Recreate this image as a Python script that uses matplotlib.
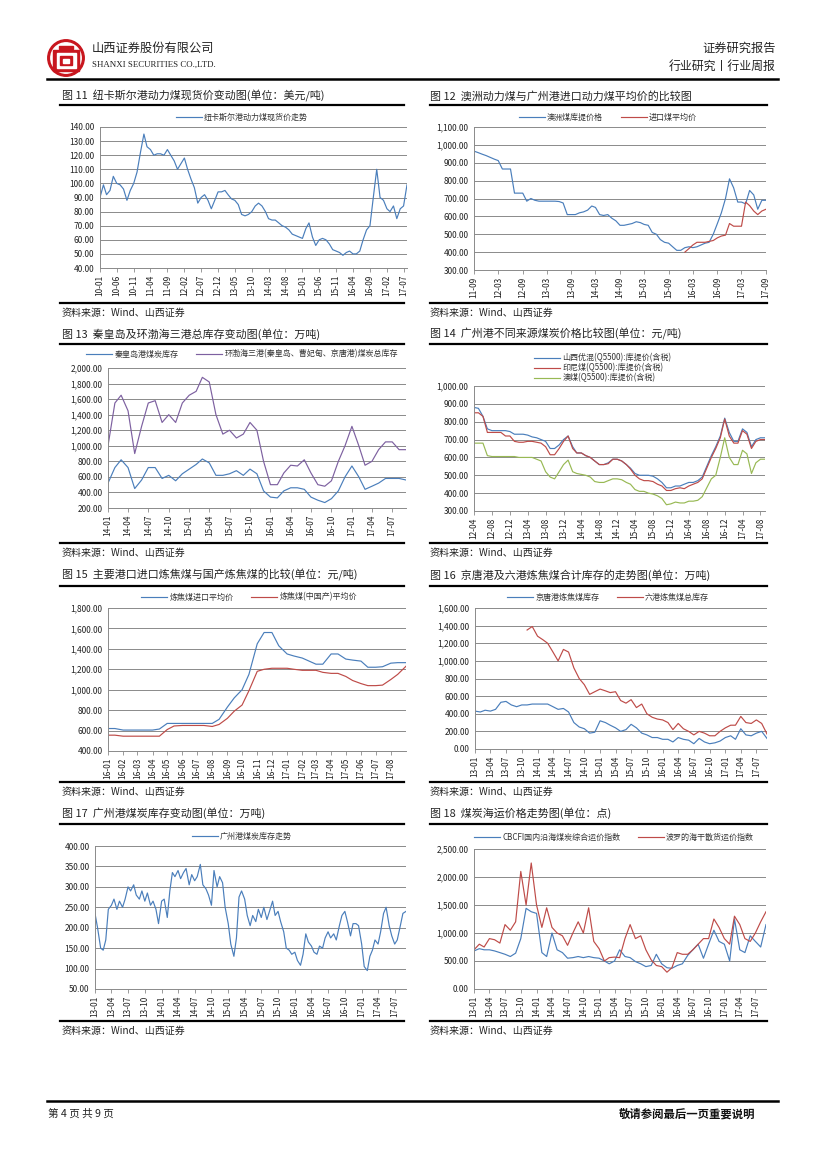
import matplotlib
matplotlib.use("Agg")
import matplotlib.pyplot as plt
import numpy as np
import pandas as pd
from matplotlib.lines import Line2D
from matplotlib.patches import Circle, Rectangle
from matplotlib.ticker import FuncFormatter

plt.rcParams['font.family'] = ['Noto Sans CJK SC', 'DejaVu Sans']

W, H = 827, 1169

BLUE = "#4a7ebb"
RED = "#be4b48"
PURPLE = "#7d60a0"
GREEN = "#98b954"

# --- Fig 11: Newcastle spot price, monthly from 2010-01 ---------------
f11_start = "2010-01-01"
f11_price = [90, 99, 92, 95, 105, 100, 99, 96, 88, 95,
             100, 108, 122, 135, 126, 124, 120, 121, 121, 120,
             124, 120, 116, 110, 114, 118, 110, 103, 97, 86,
             90, 92, 88, 82, 88, 94, 94, 95, 92, 89,
             88, 85, 78, 77, 78, 80, 84, 86, 84, 80,
             75, 74, 74, 72, 70, 69, 67, 64, 63, 62,
             61, 68, 72, 62, 56, 60, 61, 60, 57, 53,
             52, 51, 49, 51, 52, 50, 50, 52, 60, 67,
             70, 90, 110, 90, 88, 82, 80, 84, 75, 82,
             84, 99]
f11_ticks = ["10-01", "10-06", "10-11", "11-04", "11-09", "12-02", "12-07",
             "12-12", "13-05", "13-10", "14-03", "14-08", "15-01", "15-06",
             "15-11", "16-04", "16-09", "17-02", "17-07"]
f11_labels = ["纽卡斯尔港动力煤现货价走势"]

# --- Fig 12: Australian coal vs Guangzhou import avg, monthly from 2011-09
f12_start = "2011-09-01"
f12_aus = [965, 957, 948, 940, 930, 920, 912, 865, 865, 865,
           730, 730, 730, 685, 700, 690, 685, 685, 685, 685,
           685, 683, 675, 610, 610, 610, 620, 625, 635, 658,
           650, 610, 605, 610, 590, 575, 550, 550, 555, 560,
           570, 565, 555, 550, 510, 500, 470, 455, 450, 430,
           410, 410, 425, 430, 425, 430, 440, 450, 455, 500,
           560, 620, 700, 810, 760, 680, 680, 670, 745, 720,
           640, 690, 690]
f12_imp = [400, 420, 440, 455, 455, 455, 460, 465, 480, 490,
           495, 560, 545, 545, 545, 680, 660, 630, 610, 630, 640]
f12_ticks = ["11-09", "12-03", "12-09", "13-03", "13-09", "14-03", "14-09",
             "15-03", "15-09", "16-03", "16-09", "17-03", "17-09"]
f12_labels = ["澳洲煤库提价格", "进口煤平均价"]

# --- Fig 13: Qinhuangdao / Bohai three ports stock, monthly from 2014-01
f13_start = "2014-01-01"
f13_qhd = [520, 720, 820, 720, 450, 560, 720, 720, 580, 620,
           550, 640, 700, 760, 830, 780, 620, 620, 640, 680,
           620, 700, 640, 420, 340, 330, 420, 460, 460, 440,
           340, 300, 270, 320, 420, 600, 740, 600, 440, 480,
           520, 580, 580, 580, 560]
f13_bohai = [1000, 1550, 1650, 1450, 900, 1250, 1550, 1580, 1300, 1400,
             1300, 1550, 1650, 1700, 1880, 1820, 1400, 1150, 1200, 1100,
             1150, 1300, 1200, 800, 500, 500, 650, 750, 740, 820,
             650, 500, 480, 550, 800, 1000, 1250, 1000, 750, 800,
             950, 1050, 1050, 950, 950]
f13_ticks = ["14-01", "14-04", "14-07", "14-10", "15-01", "15-04", "15-07",
             "15-10", "16-01", "16-04", "16-07", "16-10", "17-01", "17-04",
             "17-07"]
f13_labels = ["秦皇岛港煤炭库存", "环渤海三港(秦皇岛、曹妃甸、京唐港)煤炭总库存"]

# --- Fig 14: Guangzhou prices by origin, monthly from 2012-04 ---------
f14_start = "2012-04-01"
f14_shanxi = [880, 875, 830, 760, 750, 750, 750, 750, 745, 730,
              730, 730, 725, 715, 710, 700, 690, 650, 650, 670,
              700, 720, 660, 625, 625, 610, 600, 580, 560, 560,
              570, 590, 590, 580, 560, 540, 510, 500, 500, 500,
              495, 480, 460, 430, 430, 440, 440, 450, 460, 460,
              470, 490, 550, 610, 660, 720, 820, 740, 690, 690,
              760, 740, 660, 700, 710, 710]
f14_indo = [850, 850, 830, 740, 740, 740, 740, 720, 720, 690,
            685, 685, 690, 690, 685, 680, 660, 615, 615, 650,
            690, 720, 650, 625, 625, 610, 600, 580, 560, 560,
            565, 590, 590, 580, 560, 535, 500, 480, 470, 470,
            465, 450, 440, 415, 415, 425, 430, 425, 440, 450,
            460, 480, 540, 600, 650, 710, 815, 720, 680, 680,
            750, 730, 650, 690, 700, 700]
f14_aus = [680, 680, 680, 610, 605, 605, 605, 605, 605, 605,
           600, 600, 600, 600, 590, 580, 520, 490, 480, 520,
           560, 585, 520, 510, 505, 500, 490, 465, 460, 460,
           470, 480, 480, 475, 460, 450, 420, 410, 410, 400,
           395, 385, 370, 335, 340, 350, 345, 345, 355, 355,
           360, 380, 430, 480, 500, 600, 710, 600, 560, 560,
           640, 620, 510, 570, 590, 590]
f14_ticks = ["12-04", "12-08", "12-12", "13-04", "13-08", "13-12", "14-04",
             "14-08", "14-12", "15-04", "15-08", "15-12", "16-04", "16-08",
             "16-12", "17-04", "17-08"]
f14_labels = ["山西优混(Q5500):库提价(含税)", "印尼煤(Q5500):库提价(含税)",
              "澳煤(Q5500):库提价(含税)"]

# --- Fig 15: imported vs domestic coking coal, semi-monthly from 2016-01
f15_start = "2016-01-01"
f15_import = [620, 620, 605, 605, 605, 605, 605, 615, 670, 670,
              670, 670, 670, 670, 670, 710, 830, 920, 1000, 1150,
              1450, 1560, 1560, 1430, 1350, 1330, 1310, 1280, 1250, 1250,
              1350, 1350, 1300, 1290, 1280, 1220, 1220, 1225, 1260, 1265,
              1265]
f15_domestic = [555, 555, 545, 545, 545, 545, 545, 545, 610, 645,
                650, 650, 650, 650, 640, 660, 720, 790, 850, 990,
                1180, 1200, 1210, 1210, 1210, 1200, 1190, 1190, 1190, 1170,
                1160, 1160, 1130, 1090, 1060, 1040, 1040, 1045, 1100, 1150,
                1230]
f15_ticks = ["16-01", "16-02", "16-03", "16-04", "16-05", "16-06", "16-07",
             "16-08", "16-09", "16-10", "16-11", "16-12", "17-01", "17-02",
             "17-03", "17-04", "17-05", "17-06", "17-07", "17-08"]
f15_labels = ["炼焦煤进口平均价", "炼焦煤(中国产)平均价"]

# --- Fig 16: Jingtang / six ports coking coal stock, monthly from 2013-01
f16_start = "2013-01-01"
f16_jt = [430, 420, 440, 430, 450, 530, 540, 500, 480, 500,
          500, 510, 510, 510, 510, 480, 450, 460, 420, 300,
          250, 230, 180, 190, 320, 300, 270, 240, 200, 220,
          280, 240, 180, 160, 130, 130, 110, 110, 80, 130,
          110, 100, 60, 120, 80, 60, 70, 90, 130, 150,
          110, 230, 160, 150, 180, 200, 120]
f16_six = [1350, 1390, 1280, 1240, 1200, 1100, 1000, 1130, 1100, 920,
           800, 730, 620, 650, 680, 660, 640, 650, 550, 520,
           560, 470, 510, 400, 360, 340, 330, 300, 220, 290,
           230, 200, 160, 200, 180, 150, 150, 200, 240, 270,
           270, 370, 300, 290, 330, 290, 170]
f16_ticks = ["13-01", "13-04", "13-07", "13-10", "14-01", "14-04", "14-07",
             "14-10", "15-01", "15-04", "15-07", "15-10", "16-01", "16-04",
             "16-07", "16-10", "17-01", "17-04", "17-07"]
f16_labels = ["京唐港炼焦煤库存", "六港炼焦煤总库存"]

# --- Fig 17: Guangzhou port coal stock, semi-monthly from 2013-01 -----
f17_start = "2013-01-01"
f17_stock = [235, 200, 150, 145, 170, 245, 255, 270, 245, 265,
             250, 270, 300, 290, 305, 280, 270, 290, 265, 285,
             255, 265, 245, 210, 265, 270, 225, 290, 335, 325,
             340, 320, 335, 345, 305, 330, 315, 325, 355, 305,
             295, 280, 255, 340, 300, 325, 310, 250, 210, 160,
             130, 175, 275, 290, 270, 230, 205, 230, 215, 245,
             225, 250, 220, 240, 265, 230, 240, 215, 190, 150,
             145, 135, 140, 120, 108, 135, 185, 165, 155, 140,
             135, 155, 150, 175, 190, 175, 185, 170, 205, 230,
             240, 215, 180, 210, 210, 205, 160, 105, 95, 130,
             145, 170, 160, 190, 235, 250, 205, 180, 160, 170,
             205, 235, 240]
f17_ticks = f16_ticks
f17_labels = ["广州港煤炭库存走势"]

# --- Fig 18: freight indices, monthly from 2013-01 --------------------
f18_start = "2013-01-01"
f18_cbcfi = [680, 720, 700, 700, 680, 650, 620, 580, 640, 900,
             1440, 1380, 1350, 650, 580, 1000, 700, 650, 550, 560,
             580, 560, 580, 560, 550, 500, 450, 500, 700, 580,
             560, 490, 450, 400, 420, 620, 450, 380, 370, 420,
             450, 600, 700, 800, 550, 800, 1050, 850, 800, 500,
             1250, 700, 650, 950, 850, 750, 1150]
f18_bdi = [700, 800, 750, 900, 880, 820, 1150, 1050, 1200, 2100,
           1500, 2250, 1500, 1100, 1450, 1100, 1000, 950, 780, 1000,
           1200, 1000, 1450, 850, 720, 500, 560, 570, 560, 900,
           1150, 900, 950, 700, 520, 420, 400, 300, 380, 650,
           620, 620, 700, 800, 900, 900, 1250, 1100, 900, 800,
           1300, 1150, 900, 850, 1000, 1200, 1380]
f18_ticks = f16_ticks
f18_labels = ["CBCFI国内沿海煤炭综合运价指数", "波罗的海干散货运价指数"]


fig = plt.figure(figsize=(W / 100, H / 100), dpi=100)


def fx(x):
    return x / W


def fy(y):
    return 1 - y / H


def hline(x0, x1, y, lw=1.6):
    fig.add_artist(Line2D([fx(x0), fx(x1)], [fy(y), fy(y)], color="black",
                          lw=lw, transform=fig.transFigure))


def monthly(start, values):
    return pd.date_range(start, periods=len(values), freq="MS")


def semimonthly(start, values):
    return pd.date_range(start, periods=len(values), freq="SMS")


def padded(values, n):
    # later-starting series: leading gap as NaN
    return [np.nan] * (n - len(values)) + list(values)


def panel(box, ylim, ystep, tick_labels, lines, legend_xy, ncol=2):
    x0, y0, x1, y1 = box
    ax = fig.add_axes([fx(x0), fy(y1), (x1 - x0) / W, (y1 - y0) / H])
    end = None
    for dates, vals, color, label in lines:
        ax.plot(dates, vals, color=color, lw=0.85, label=label)
        end = dates[-1] if end is None else max(end, dates[-1])
    ax.set_ylim(*ylim)
    ax.set_yticks(np.arange(ylim[0], ylim[1] + ystep / 2, ystep))
    ax.yaxis.set_major_formatter(FuncFormatter(lambda v, p: f"{v:,.2f}"))
    tick_dates = [pd.Timestamp("20" + s + "-01") for s in tick_labels]
    ax.set_xticks(tick_dates)
    ax.set_xticklabels(tick_labels, rotation=90)
    ax.set_xlim(tick_dates[0], end)
    ax.grid(axis="y", color="#8a8a8a", lw=0.7)
    ax.set_axisbelow(True)
    for s in ("top", "right"):
        ax.spines[s].set_visible(False)
    for s in ("left", "bottom"):
        ax.spines[s].set_color("#8a8a8a")
        ax.spines[s].set_linewidth(0.7)
    ax.tick_params(axis="y", length=0, labelsize=6.0, pad=4, labelcolor="#222222")
    ax.tick_params(axis="x", length=3, width=0.6, color="#8a8a8a",
                   labelsize=6.0, pad=2, labelcolor="#222222")
    h, l = ax.get_legend_handles_labels()
    fig.legend(h, l, loc="center", bbox_to_anchor=(fx(legend_xy[0]), fy(legend_xy[1])),
               ncol=ncol, frameon=False, fontsize=5.8, handlelength=3.2,
               handletextpad=0.3, columnspacing=2.2, labelspacing=0.1,
               borderpad=0, labelcolor="#333333")
    return ax


# --- page header ------------------------------------------------------
lax = fig.add_axes([fx(47), fy(77), 38 / W, 38 / H])
lax.set_xlim(0, 1)
lax.set_ylim(0, 1)
lax.axis("off")
lax.add_patch(Circle((0.5, 0.5), 0.48, color="#c8161e"))
lax.add_patch(Circle((0.5, 0.5), 0.40, color="white"))
lax.add_patch(Rectangle((0.32, 0.74), 0.36, 0.08, color="#c8161e"))
lax.add_patch(Rectangle((0.16, 0.16), 0.68, 0.54, color="#c8161e"))
lax.add_patch(Rectangle((0.25, 0.24), 0.5, 0.38, color="white"))
lax.add_patch(Rectangle((0.34, 0.32), 0.32, 0.22, color="#c8161e"))
lax.add_patch(Rectangle((0.42, 0.38), 0.16, 0.1, color="white"))

fig.text(fx(92), fy(48), "山西证券股份有限公司", fontsize=8.8, va="center",
         color="#222222")
fig.text(fx(92), fy(65), "SHANXI SECURITIES CO.,LTD.", fontsize=6.4,
         va="center", family="Liberation Serif", color="#222222")
fig.text(fx(776), fy(48), "证券研究报告", fontsize=8.8, va="center", ha="right",
         color="#222222")
fig.text(fx(776), fy(66), "行业研究丨行业周报", fontsize=8.6, va="center",
         ha="right", color="#222222")
hline(47, 778, 79, lw=1.8)

# --- panel frames: titles, rules, sources -----------------------------
titles = [
    (62, 96, "图 11  纽卡斯尔港动力煤现货价变动图(单位：美元/吨)"),
    (430, 96, "图 12  澳洲动力煤与广州港进口动力煤平均价的比较图"),
    (62, 334, "图 13  秦皇岛及环渤海三港总库存变动图(单位：万吨)"),
    (430, 334, "图 14  广州港不同来源煤炭价格比较图(单位：元/吨)"),
    (62, 575, "图 15  主要港口进口炼焦煤与国产炼焦煤的比较(单位：元/吨)"),
    (430, 575, "图 16  京唐港及六港炼焦煤合计库存的走势图(单位：万吨)"),
    (62, 813, "图 17  广州港煤炭库存变动图(单位：万吨)"),
    (430, 813, "图 18  煤炭海运价格走势图(单位：点)"),
]
for x, y, t in titles:
    fig.text(fx(x), fy(y), t, fontsize=7.9, va="center", color="#222222")

for top, bottom in [(105, 303), (344, 543), (586, 782), (824, 1021)]:
    hline(60, 404, top)
    hline(430, 767, top)
    hline(60, 404, bottom)
    hline(430, 767, bottom)
    for x in (62, 430):
        fig.text(fx(x), fy(bottom + 10), "资料来源：Wind、山西证券",
                 fontsize=7.2, va="center", color="#222222")

# --- charts -----------------------------------------------------------
d11 = monthly(f11_start, f11_price)
panel((100, 127, 407, 268), (40, 140), 10, f11_ticks,
      [(d11, f11_price, BLUE, f11_labels[0])], (242, 117), ncol=1)

d12 = monthly(f12_start, f12_aus)
panel((474, 127, 766, 270), (300, 1100), 100, f12_ticks,
      [(d12, f12_aus, BLUE, f12_labels[0]),
       (d12, padded(f12_imp, len(f12_aus)), RED, f12_labels[1])], (608, 117))

d13 = monthly(f13_start, f13_qhd)
panel((108, 368, 406, 508), (200, 2000), 200, f13_ticks,
      [(d13, f13_qhd, BLUE, f13_labels[0]),
       (d13, f13_bohai, PURPLE, f13_labels[1])], (242, 354))

d14 = monthly(f14_start, f14_shanxi)
panel((474, 386, 765, 511), (300, 1000), 100, f14_ticks,
      [(d14, f14_shanxi, BLUE, f14_labels[0]),
       (d14, f14_indo, RED, f14_labels[1]),
       (d14, f14_aus, GREEN, f14_labels[2])], (603, 368), ncol=1)

d15 = semimonthly(f15_start, f15_import)
panel((108, 608, 406, 751), (400, 1800), 200, f15_ticks,
      [(d15, f15_import, BLUE, f15_labels[0]),
       (d15, f15_domestic, RED, f15_labels[1])], (249, 597))

d16 = monthly(f16_start, f16_jt)
panel((475, 608, 767, 749), (0, 1600), 200, f16_ticks,
      [(d16, f16_jt, BLUE, f16_labels[0]),
       (d16, padded(f16_six, len(f16_jt)), RED, f16_labels[1])], (608, 597))

d17 = semimonthly(f17_start, f17_stock)
panel((95, 846, 406, 989), (50, 400), 50, f17_ticks,
      [(d17, f17_stock, BLUE, f17_labels[0])], (242, 836), ncol=1)

d18 = monthly(f18_start, f18_cbcfi)
panel((474, 849, 766, 989), (0, 2500), 500, f18_ticks,
      [(d18, f18_cbcfi, BLUE, f18_labels[0]),
       (d18, f18_bdi, RED, f18_labels[1])], (614, 837))

# --- footer -----------------------------------------------------------
hline(47, 778, 1101, lw=1.8)
fig.text(fx(48), fy(1114), "第 4 页 共 9 页", fontsize=7.6, va="center",
         color="#222222")
fig.text(fx(755), fy(1114), "敬请参阅最后一页重要说明", fontsize=8.2,
         va="center", ha="right", weight="bold", color="#111111")

fig.savefig("out.png", dpi=100)
